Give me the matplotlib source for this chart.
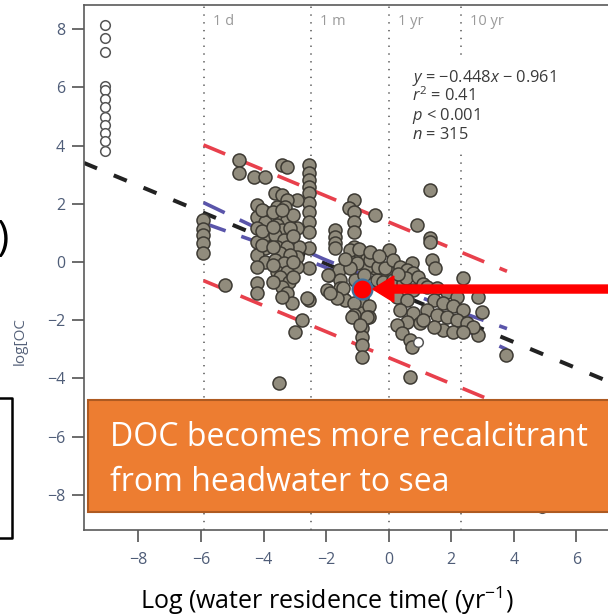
import matplotlib
matplotlib.use('Agg')
import matplotlib.pyplot as plt
import numpy as np
from matplotlib.patches import Rectangle, FancyArrow
from matplotlib.transforms import Bbox, IdentityTransform
from matplotlib.lines import Line2D

plt.rcParams['font.family'] = ['Open Sans', 'DejaVu Sans']
plt.rcParams['mathtext.fontset'] = 'custom'
plt.rcParams['mathtext.rm'] = 'Open Sans'
plt.rcParams['mathtext.it'] = 'Open Sans:italic'

# ---------------- data ----------------
open_x = [-9.07] * 12 + [0.95, 4.9]
open_y = [8.14, 7.69, 7.20, 6.05, 5.90, 5.59, 5.34, 4.97, 4.70, 4.43, 4.15, 3.80,
          -2.74, -8.45]

pts_x = [
    -5.95, -5.95, -5.95, -5.95, -5.95, -5.22,
    -4.80, -4.80, -4.32, -3.95, -3.41, -3.25,
    -2.56, -2.56, -2.56, -2.56, -2.56, -2.56, -2.56, -2.56, -2.56, -2.56, -2.56, -2.56,
    -2.93, -2.93, -2.88, -2.93, -2.93,
    -4.20, -3.95, -4.20, -3.95, -4.20, -3.95, -4.20, -3.95, -4.20, -3.95, -4.20, -4.20, -4.20,
    -4.05, -4.05, -4.05,
    -3.63, -3.41, -3.25, -3.57, -3.30, -3.52, -3.25, -3.57, -3.41, -3.14, -3.63, -3.36,
    -3.57, -3.25, -3.47, -3.14, -3.63, -3.36, -3.57, -3.25, -3.47, -3.20, -3.41, -3.25,
    -3.09, -3.70, -3.70, -3.70, -3.70, -3.70, -3.05, -3.05, -3.05, -3.05, -3.40, -3.40,
    -2.77, -2.99, -3.52,
    -1.71, -1.71, -1.71, -1.71, -1.92, -1.97, -1.60, -1.55, -1.55, -1.50, -1.39,
    -1.12, -1.28, -1.12, -1.12, -1.12, -1.12, -1.12, -0.43,
    -0.91, -0.70, -0.49, -0.27, 0.00, 0.00, -0.17,
    -0.86, -0.86, -0.86, -0.86, -0.86, -0.86, -0.86, -0.86,
    -0.64, -0.64, -1.12, -1.12, -0.43, -0.38, -0.70, -1.02,
    -0.59, -0.34, -1.23, -1.07, -1.45, -1.65, -1.87, -1.93, -2.60, -0.17, -0.11, 0.15,
    -1.18, -0.70, -0.91,
    -1.25, -0.95, -0.60, -0.30, -1.40, -0.80,
    1.33, 0.92, 1.33, 1.33, 1.38, 1.49, 0.74, 2.39, 2.87, 2.98, 2.87, 3.75, 0.69,
    0.37, 0.58, 0.79, 0.15, 0.47, 0.79, 0.26, 0.58, 0.37, 0.79, 0.58, 0.26, 0.42,
    0.69, 0.74, 1.01,
    0.55, 0.95, 1.10, 0.30,
    1.22, 1.54, 1.86, 2.18, 1.44, 1.75, 2.07, 2.39, 1.22, 1.54, 1.86, 2.18, 2.50,
    2.71, 1.75, 2.07, 2.39, 1.44, 1.11,
]
pts_y = [
    1.44, 1.15, 0.92, 0.64, 0.30, -0.79,
    3.51, 3.05, 2.93, 2.93, 3.33, 3.28,
    3.33, 3.05, 2.82, 2.59, 2.36, 2.02, 1.73, 1.39, 1.04, 0.47, -0.22, -1.31,
    2.13, 1.16, 0.53, 0.18, -0.16,
    1.96, 1.73, 1.56, 1.39, 1.16, 0.93, 0.70, 0.47, 0.24, 0.01, -0.16, -0.73, -1.08,
    1.80, 1.05, 0.60,
    2.36, 2.30, 2.13, 1.90, 1.90, 1.56, 1.44, 1.27, 1.10, 1.16, 0.93, 0.76,
    0.53, 0.53, 0.30, 0.24, 0.07, -0.05, -0.33, -0.33, -0.50, -0.68, -0.85, -1.08,
    -1.42, 1.70, 1.20, 0.50, -0.10, -0.70, 1.60, 0.90, 0.00, -0.50, 1.80, -1.20,
    -1.99, -2.39, -4.17,
    1.10, 0.87, 0.64, 0.47, -0.45, -0.96, -0.27, -0.62, -0.90, -1.19, -1.31,
    2.13, 1.84, 1.73, 1.39, 1.04, 0.53, 0.18, 1.62,
    0.30, 0.13, 0.07, -0.22, 0.41, -0.33, -0.62,
    -1.19, -1.48, -1.76, -2.05, -2.28, -2.57, -2.85, -3.25,
    -1.53, -1.88, -1.42, -1.82, -0.22, -0.62, -0.16, -0.05,
    0.07, -0.16, -0.20, -0.62, -0.90, -1.25, -1.07, -0.45, -1.25, -0.68, -0.20, 0.07,
    -1.88, -1.88, -2.16,
    0.40, 0.45, 0.35, 0.20, 0.10, -0.45,
    2.47, 1.27, 0.81, 0.70, 0.07, -0.22, -0.05, -0.56, -1.19, -1.71, -2.51, -3.20, -3.94,
    -0.16, -0.27, -0.39, -0.62, -0.73, -0.96, -1.19, -1.31, -1.65, -1.76, -2.05, -2.16, -2.45,
    -2.68, -2.91, -2.11,
    -0.55, -0.50, -0.75, -0.40,
    -0.85, -0.90, -1.02, -1.19, -1.31, -1.42, -1.53, -1.65, -1.65, -1.82, -1.88, -1.99, -2.11,
    -2.22, -2.34, -2.39, -2.39, -2.22, -1.99,
]

hl_x, hl_y = -0.86, -0.93

reg_slope, reg_intercept = -0.448, -0.961
reg_x = [-9.74, 7.2]

pi_x = [-5.92, 3.78]
pi_upper = [4.02, -0.32]
pi_lower = [-0.64, -4.98]

ci_x = [-5.92, -4.40, -3.20, -2.10, -1.00, 0.50, 1.40, 2.60, 3.78]
ci_upper = [2.04, 1.26, 0.64, 0.11, -0.37, -1.00, -1.37, -1.84, -2.29]
ci_lower = [1.34, 0.76, 0.30, -0.15, -0.65, -1.37, -1.81, -2.42, -3.01]

vline_x = [-5.90, -2.48, 0.00, 2.30]
vline_labels = ['1 d', '1 m', '1 yr', '10 yr']

xticks = [-8, -6, -4, -2, 0, 2, 4, 6]
yticks = [-8, -6, -4, -2, 0, 2, 4, 6, 8]

stats_lines = [r'$y$ = −0.448$x$ − 0.961', r'$r^2$ = 0.41', r'$p$ < 0.001', r'$n$ = 315']
callout_lines = ['DOC becomes more recalcitrant', 'from headwater to sea']
xlabel_text = r'Log (water residence time( (yr$^{-1}$)'

# ---------------- figure ----------------
W, H = 608, 616
fig = plt.figure(figsize=(W / 100, H / 100), dpi=100)
ax = fig.add_axes([84 / W, 1 - 530 / H, (W - 84) / W, (530 - 5) / H])
ax.set_xlim(-9.74, 7.01)
ax.set_ylim(-9.21, 8.83)

spine_c = '#5a5a5a'
for s in ['left', 'bottom', 'top']:
    ax.spines[s].set_color(spine_c)
    ax.spines[s].set_linewidth(1.2)
ax.spines['right'].set_visible(False)

tick_c = '#4f5d78'
ax.set_xticks(xticks)
ax.set_yticks(yticks)
ax.tick_params(axis='both', direction='out', length=8.6, width=1.1, color='#444444',
               labelcolor=tick_c, labelsize=11.5)
ax.tick_params(axis='y', pad=5)
ax.tick_params(axis='x', pad=7)

# dotted time markers
for vx, lab in zip(vline_x, vline_labels):
    ax.axvline(vx, color='#555555', lw=1.1, linestyle=(0, (0.9, 4.2)), zorder=1)
    ax.annotate(lab, xy=(vx, 1), xycoords=('data', 'axes fraction'),
                xytext=(6.5, -12), textcoords='offset points',
                ha='left', va='center', fontsize=10.5, color='#9a9a9a')

# white panel behind the statistics (hides the dotted line there)
ax.add_patch(Rectangle((0.6, 3.85), 6.0, 3.25, facecolor='white', edgecolor='none',
                       zorder=1.5))

# regression, prediction, confidence lines
rx = np.array(reg_x)
ax.plot(rx, reg_slope * rx + reg_intercept, color='#222222', lw=2.9,
        linestyle=(0, (3.5, 4.5)), dash_capstyle='butt', zorder=2)
red = '#e8404c'
blue = '#5a55aa'
ax.plot(pi_x, pi_upper, color=red, lw=2.6, linestyle=(0, (6.5, 4.6)), zorder=2)
ax.plot(pi_x, pi_lower, color=red, lw=2.6, linestyle=(0, (6.5, 4.6)), zorder=2)
ax.plot(ci_x, ci_upper, color=blue, lw=2.6, linestyle=(0, (6.5, 4.6)), zorder=2)
ax.plot(ci_x, ci_lower, color=blue, lw=2.6, linestyle=(0, (6.5, 4.6)), zorder=2)

# points
ax.scatter(pts_x, pts_y, s=88, facecolor='#918c7d', edgecolor='#3d3a33',
           linewidth=1.1, zorder=3)
ax.scatter(open_x, open_y, s=48, facecolor='white', edgecolor='#555555',
           linewidth=1.1, zorder=3, clip_on=False)
ax.scatter([hl_x], [hl_y], s=205, facecolor='#ff0000', edgecolor='#41719c',
           linewidth=1.6, zorder=5)

# stats text
ax0 = ax.transData.transform((0.75, 6.2))
for i, line in enumerate(stats_lines):
    fig.text(ax0[0] / W, (ax0[1] - i * 19.0) / H, line, ha='left', va='baseline',
             fontsize=11.8, color='#3a3a3a')

fig.text(327 / W, 1 - 601 / H, xlabel_text, ha='center', va='center',
         fontsize=18, color='black')

# arrow pointing to highlighted point
px, py = ax.transData.transform((hl_x, hl_y))
tip = px + 11
arrow = FancyArrow(W + 20, py, -(W + 20 - tip), 0, width=8, head_width=26,
                   head_length=21, length_includes_head=True, color='#ff0000',
                   transform=IdentityTransform(), zorder=10)
fig.patches.append(arrow)

# orange callout box
box = Rectangle((88 / W, 1 - 512 / H), (W - 88 + 10) / W, (512 - 400) / H,
                transform=fig.transFigure, facecolor='#ed7d31', edgecolor='#ae5a21',
                linewidth=1.5, zorder=20)
fig.patches.append(box)
fig.text(110 / W, 1 - 446 / H, callout_lines[0], ha='left',
         va='baseline', fontsize=23, color='white', zorder=21)
fig.text(110 / W, 1 - 491 / H, callout_lines[1], ha='left',
         va='baseline', fontsize=23, color='white', zorder=21)

# partial left-side slide elements
ylab = fig.text(20 / W, 1 - 365 / H, 'log[OC', rotation=90, ha='center', va='bottom',
                fontsize=11, color='#56627a')
ylab.set_clip_box(Bbox([[0, H - 372], [60, H - 318]]))
ylab.set_clip_on(True)

fig.text(9 / W, 1 - 239 / H, ')', ha='right', va='center', fontsize=30, color='black')
fig.lines.append(Line2D([0, 12 / W, 12 / W, 0], [1 - 398 / H, 1 - 398 / H, 1 - 538 / H, 1 - 538 / H],
                        transform=fig.transFigure, color='black', lw=1.8))

fig.savefig('out.png', dpi=100)
